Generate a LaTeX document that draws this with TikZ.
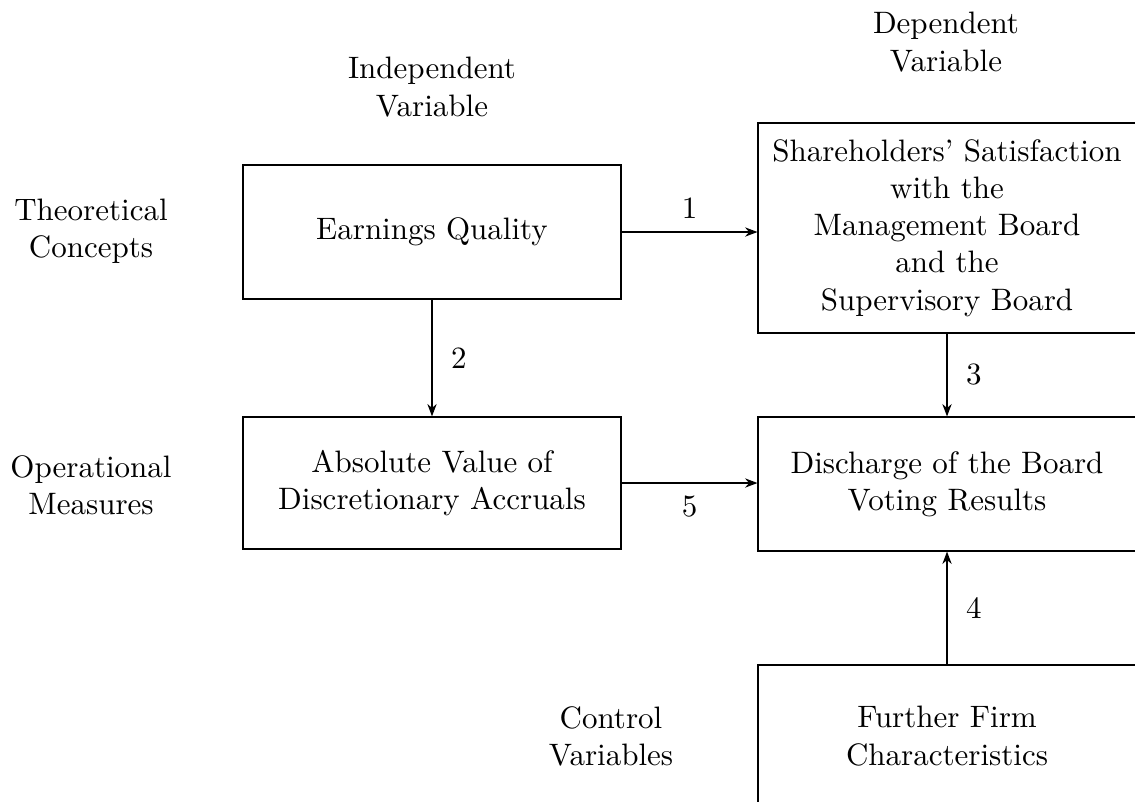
\documentclass[tikz,border=0pt]{standalone}
\usetikzlibrary{arrows.meta}
\begin{document}
\begin{tikzpicture}[x=0.3226pt,y=-0.3226pt,
  box/.style={draw,align=center,minimum width=121.9pt,inner sep=0pt},
  lbl/.style={align=center,inner sep=0pt},
  arr/.style={-{Stealth[length=4pt,width=3pt]}}]
\useasboundingbox (0,0) rectangle (1135,801);
\node[lbl] (iv) at (432,87) {Independent\\Variable};
\node[lbl] (dv) at (946,42) {Dependent\\Variable};
\node[lbl] (tc) at (91,231) {Theoretical\\Concepts};
\node[lbl] (om) at (91,485) {Operational\\Measures};
\node[lbl] (cv) at (611,736) {Control\\Variables};
\node[box,minimum height=43.2pt] (eq) at (432,232) {Earnings Quality};
\node[box,minimum height=67.7pt] (sh) at (947,228) {Shareholders' Satisfaction\\with the\\Management Board\\and the\\Supervisory Board};
\node[box,minimum height=42.6pt] (av) at (432,483) {Absolute Value of\\Discretionary Accruals};
\node[box,minimum height=43.2pt] (dc) at (947,484) {Discharge of the Board\\Voting Results};
\node[box,minimum height=45.8pt] (ff) at (947,736) {Further Firm\\Characteristics};
\draw[arr] (eq.east) -- node[above,inner sep=4pt] {1} (sh.west|-eq.east);
\draw[arr] (eq.south) -- node[right,inner sep=6pt] {2} (av.north);
\draw[arr] (sh.south) -- node[right,inner sep=6pt] {3} (dc.north);
\draw[arr] (ff.north) -- node[right,inner sep=6pt] {4} (dc.south);
\draw[arr] (av.east) -- node[below,inner sep=4pt] {5} (dc.west|-av.east);
\end{tikzpicture}
\end{document}
